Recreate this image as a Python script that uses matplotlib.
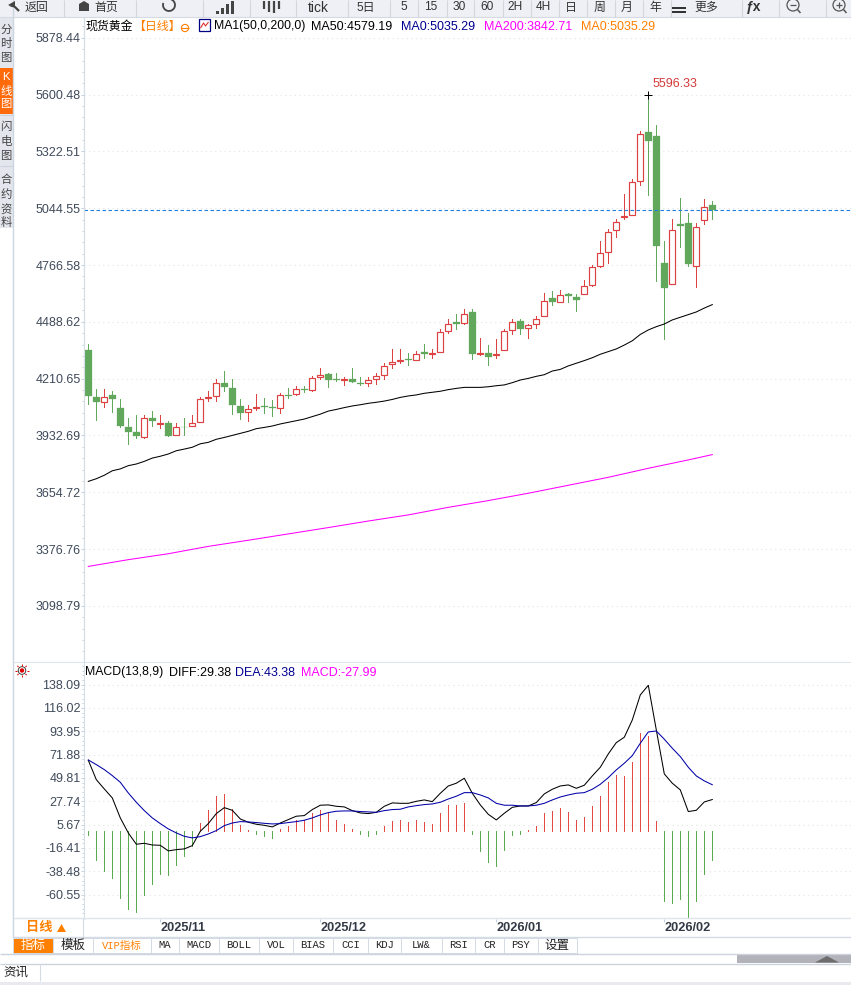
import numpy as np
import matplotlib
matplotlib.use("Agg")
import matplotlib.pyplot as plt
from matplotlib.patches import Rectangle, Circle, Polygon, Arc
from matplotlib.ticker import FixedLocator

plt.rcParams['font.family'] = ['Liberation Sans', 'Noto Sans CJK SC', 'DejaVu Sans']

opens = [4349,4122,4098,4129,4068,3975,3951,3927,4020,3989,3995,3936,3975,3980,4000,4117,4127,4191,4166,4078,
         4049,4067,4078,4073,4068,4132,4134,4161,4157,4220,4232,4207,4202,4207,4191,4191,4210,4230,4284,4295,
         4305,4303,4339,4333,4342,4445,4486,4484,4535,4333,4338,4326,4352,4448,4494,4458,4479,4519,4603,4587,
         4626,4612,4626,4670,4762,4832,4939,5001,5013,5179,5416,5396,4775,4675,4965,4974,4762,4988,5062]
highs = [4378,4161,4158,4148,4109,4020,4031,4031,4051,4031,4005,3992,4020,4031,4119,4152,4210,4246,4210,4109,
         4083,4134,4114,4104,4142,4163,4176,4174,4225,4264,4236,4240,4220,4261,4220,4220,4240,4285,4354,4354,
         4334,4347,4378,4357,4452,4501,4525,4550,4550,4408,4373,4403,4455,4501,4501,4479,4519,4631,4638,4643,
         4631,4623,4691,4768,4885,4941,4990,5112,5189,5420,5596.33,5450,4885,4993,5093,5022,4970,5088,5078]
lows = [4085,4008,4072,4047,3974,3891,3920,3920,3979,3969,3930,3933,3933,3979,4000,4101,4101,4150,4037,4013,
        4003,4057,4044,4028,4044,4117,4132,4147,4150,4210,4170,4201,4178,4194,4179,4174,4184,4207,4262,4285,
        4276,4302,4310,4310,4341,4434,4452,4478,4305,4326,4276,4310,4351,4429,4427,4408,4458,4517,4571,4585,
        4585,4541,4626,4664,4757,4776,4903,4992,5011,5158,5109,4688,4404,4675,4854,4761,4659,4967,4992]
closes = [4126,4096,4121,4111,3979,3949,3930,4020,4003,3995,3930,3975,3972,3995,4112,4122,4191,4170,4081,4044,
          4064,4073,4072,4067,4130,4126,4160,4155,4214,4230,4204,4202,4207,4194,4186,4205,4225,4274,4293,4300,
          4302,4333,4333,4336,4440,4479,4479,4528,4331,4338,4316,4333,4445,4489,4453,4473,4504,4592,4585,4620,
          4615,4595,4665,4758,4827,4930,4978,5008,5174,5409,5373,4859,4654,4939,4957,4771,4954,5052,5035.29]

ma50 = [3708,3721,3738,3760,3769,3785,3793,3806,3822,3831,3842,3858,3866,3875,3892,3899,3914,3923,3933,3943,
        3953,3966,3972,3979,3989,3997,4005,4013,4025,4037,4052,4060,4069,4077,4083,4090,4095,4101,4109,4119,
        4126,4131,4139,4144,4149,4157,4163,4168,4168,4168,4171,4176,4180,4191,4204,4212,4222,4230,4248,4256,
        4273,4286,4299,4313,4330,4343,4356,4375,4396,4427,4449,4465,4478,4498,4511,4524,4537,4556,4573]
ma200_at = [0,5,10,15,20,25,30,35,40,45,50,55,60,65,70,75,78]
ma200 = [3292,3325,3354,3390,3420,3451,3482,3514,3544,3581,3614,3650,3689,3728,3772,3813,3839]

macd = [-3.8,-28.1,-38.5,-45,-64,-74.4,-77.2,-61.1,-50.7,-41.3,-42.2,-32.8,-24.3,-14.2,7.2,19.9,33.1,35,20.5,5.7,
        0.3,-2.8,-4.7,-6.6,1.9,4.7,10.4,10.4,16.7,19.9,16.7,10.4,6.6,1.9,-3.5,-4.7,-2.8,4.7,9.5,10.1,
        8.2,10.1,8.2,6.3,16.7,24.3,24.3,26.2,-2.8,-18.9,-29.3,-33.1,-18,-3.8,-2.8,0.6,4.4,16.7,18.6,21.4,
        17.7,10.1,12.9,23.3,32.8,46,52.6,51.7,64.9,92.4,89.5,9.1,-66.2,-68.1,-64.3,-82.3,-66.2,-40.7,-27.99]
diff = [66.5,48.2,39.4,30.9,12,-2.2,-12.9,-12,-13.6,-13.9,-19.2,-18,-17.3,-14.2,-0.6,6.6,16.1,21.7,19.2,11,
        7.9,6,5,3.5,7.2,10.4,13.6,14.2,19.9,24,24.3,23,22.4,18.9,16.7,16.1,17.3,23,26.2,25.8,
        25.8,27.7,29,27.4,35.3,42.2,44.8,49.5,35.3,24.3,15.4,10.1,16.4,22,23.3,23.3,26.5,34.7,39.1,42.2,
        43.2,40,42.9,51.7,59.9,72.5,83.2,88.3,104.6,128.3,137.4,95.2,53.6,44.8,38.5,18,19.2,27.1,29.38]
dea = [66.8,62.4,57.7,52,45.7,35.6,26.8,18.9,12,6.6,1.6,-2.2,-5.4,-6.9,-5.7,-3.2,0,4.7,7.2,8.5,
       8.2,7.6,6.9,6.3,6.6,7.6,8.5,9.8,12,14.8,17,18.3,18.6,18.6,18,17.7,17.3,18.9,19.9,20.2,
       22.4,23.6,24.6,25.2,26.8,29.9,32.5,35.9,35.9,33.7,30.9,25.8,24,24,23.3,23.3,24,25.8,29,31.8,
       33.7,35.3,35.9,39.1,43.8,50.1,57.4,63.7,70.9,82.6,93.3,94.2,86.4,77.9,70,59.9,51.7,47,43.38]

price_ticks = [5878.44,5600.48,5322.51,5044.55,4766.58,4488.62,4210.65,3932.69,3654.72,3376.76,3098.79]
macd_ticks = [138.09,116.02,93.95,71.88,49.81,27.74,5.67,-16.41,-38.48,-60.55]
date_at = [9,29,51,72]
date_labels = ['2025/11','2025/12','2026/01','2026/02']
last_price = 5035.29
peak_label = '5596.33'
tool_labels = [(36,'返回'),(106,'首页'),(318,'tick'),(366,'5日'),(404,'5'),(431,'15'),(459,'30'),(487,'60'),(515,'2H'),
               (543,'4H'),(571,'日'),(599,'周'),(627,'月'),(655,'年'),(706,'更多')]
tool_seps = [64,136,203,250,296,348,390,418,447,474,503,531,559,587,615,643,671,742,779,826]
tab_edges = [13,53,93,150.5,179,219,259,293,333,367.5,401,441.5,475,504,537.5,577]
tab_names = ['指标','模板','VIP指标','MA','MACD','BOLL','VOL','BIAS','CCI','KDJ','LW&','RSI','CR','PSY','设置']

W, H = 851, 985
RED, GREEN = '#dc4242', '#62a85c'
TICKC, EDGE, GRID = '#3f4a5a', '#d5dde6', '#e8e8e8'
ORANGE = '#ff8000'
idx = np.arange(len(opens))
X0, DX = 88.3, 8.0
THIN = 0.72
CURVE = 0.75

fig = plt.figure(figsize=(W/100, H/100), dpi=100, facecolor='white')
def box(l, t, r, b, **k):
    return fig.add_axes([l/W, 1-b/H, (r-l)/W, (b-t)/H], **k)
def style(ax):
    ax.set_facecolor('white')
    ax.set_xlim((84-X0)/DX, (851-X0)/DX)
    for s in ('top', 'right', 'bottom'):
        ax.spines[s].set_visible(False)
    ax.spines['left'].set_color(EDGE)
    ax.spines['left'].set_linewidth(0.8)
    ax.grid(True, axis='y', which='major', color=GRID, lw=0.8, ls=(0, (1.2, 3)))
    ax.set_axisbelow(True)
    ax.tick_params(axis='y', which='major', length=2.2, width=0.7, color='#c3d3e3', labelcolor=TICKC, labelsize=9, pad=0.2)
    ax.tick_params(axis='y', which='minor', length=1.2, width=0.7, color='#c3d3e3')

# price panel
ax = box(84, 20, 851, 661)
style(ax)
PX = 4.893
ax.set_ylim(5603.48-(661-94)*PX, 5603.48+(94-20)*PX)
ax.set_xticks([])
ax.set_yticks(price_ticks)
ax.set_yticklabels(['%.2f' % t for t in price_ticks])
step = price_ticks[0]-price_ticks[1]
ax.yaxis.set_minor_locator(FixedLocator([price_ticks[-1]-step+i*step/5 for i in range(60)]))
o, h, l, c = map(np.array, (opens, highs, lows, closes))
up = c >= o
ax.vlines(idx[up], l[up], h[up], color=RED, lw=THIN, antialiased=False, zorder=2)
ax.vlines(idx[~up], l[~up], h[~up], color=GREEN, lw=THIN, antialiased=False, zorder=2)
ax.bar(idx[up], (c-o)[up], bottom=o[up], width=0.76, facecolor='white', edgecolor=RED, linewidth=0.85, zorder=3)
ax.bar(idx[~up], (o-c)[~up], bottom=c[~up], width=0.86, facecolor=GREEN, edgecolor=GREEN, linewidth=0.2, zorder=3)
ax.plot(idx, ma50, color='black', lw=CURVE, zorder=4)
ax.plot(ma200_at, ma200, color='#ff00ff', lw=CURVE, zorder=4)
ax.axhline(last_price, color='#2080e0', lw=0.8, ls=(0, (3.2, 2.2)), zorder=5)
peak = int(np.argmax(h))
ax.plot([peak], [h[peak]], marker='+', color='black', ms=5.5, mew=0.72, zorder=6)
ax.annotate(peak_label, (peak, h[peak]), xytext=(4, 5), textcoords='offset pixels', color='#d43a3a', fontsize=9, va='bottom', ha='left', zorder=6)

# MACD panel
ax2 = box(84, 662, 851, 918.5)
style(ax2)
PY = 1.0575
ax2.set_ylim((830.6-918.5)/PY, (830.6-662)/PY)
ax2.set_yticks(macd_ticks)
ax2.set_yticklabels(['%.2f' % t for t in macd_ticks])
ms = macd_ticks[0]-macd_ticks[1]
ax2.yaxis.set_minor_locator(FixedLocator([macd_ticks[-1]-ms+i*ms/5 for i in range(60)]))
mv = np.array(macd)
ax2.vlines(idx[mv >= 0], 0, mv[mv >= 0], color='#e24a42', lw=THIN, antialiased=False, zorder=2)
ax2.vlines(idx[mv < 0], 0, mv[mv < 0], color='#5aaa50', lw=THIN, antialiased=False, zorder=2)
ax2.plot(idx, diff, color='black', lw=CURVE, zorder=3)
ax2.plot(idx, dea, color='#0000a8', lw=CURVE, zorder=4)
ax2.set_xticks(date_at)
ax2.set_xticklabels(date_labels, ha='left', fontsize=9.2, color='#333a45', fontweight='bold')
ax2.tick_params(axis='x', length=2.5, width=0.8, color='#c3d3e3', pad=0)

# interface chrome and headers in pixel coordinates
ui = fig.add_axes([0, 0, 1, 1], facecolor='none', zorder=20)
ui.set_xlim(0, W); ui.set_ylim(H, 0); ui.axis('off')
def R(l, t, r, b, fc, ec='none', lw=0.8, z=1):
    ui.add_patch(Rectangle((l, t), r-l, b-t, facecolor=fc, edgecolor=ec, linewidth=lw, zorder=z))
def T(x, y, s, color='black', size=9.0, ha='left', **k):
    ui.text(x, y, s, color=color, fontsize=size, ha=ha, va='center', **k)
def L(xs, ys, color=EDGE, lw=0.8, z=2):
    ui.plot(xs, ys, color=color, lw=lw, zorder=z, solid_capstyle='butt')

# top toolbar
R(0, 0, W, 16.5, '#eef0f5')
L([0, W], [16.5, 16.5], '#d5dae3')
for s in tool_seps:
    L([s, s], [0, 16.5], '#d2d6de')
for x, s in tool_labels:
    T(x, 7.5, s, '#333333', 8.6 if s != 'tick' else 10, ha='center')
L([10, 15, 19], [5, 7, 11], '#444444', 1.6)
ui.add_patch(Polygon([[8, 5], [15, 1], [15, 8]], facecolor='#444444', zorder=3))
ui.add_patch(Polygon([[79, 11], [79, 4], [84, 1], [89, 4], [89, 11]], facecolor='#444444', zorder=3))
ui.add_patch(Arc((169, 5), 12, 12, theta1=-70, theta2=200, color='#444444', lw=1.3, zorder=3))
for x, y in [(217, 11), (222, 8), (227, 4), (232, 1)]:
    R(x-1, y, x+1.5, 14, '#444444', z=3)
for x, t, b in [(264, 1, 9), (269, 1, 12), (274, 1, 13), (279, 1, 9)]:
    L([x, x], [t, b], '#444444', 1.6, 3)
R(672, 7, 686, 8.5, '#333333', z=3); R(672, 11, 686, 12.5, '#333333', z=3)
T(754, 7.5, 'ƒx', '#333333', 10, ha='center', fontweight='bold')
for x, plus in [(793, False), (839, True)]:
    ui.add_patch(Circle((x, 5), 6, facecolor='none', edgecolor='#555555', lw=0.9, zorder=3))
    L([x-3, x+3], [5, 5], '#555555', 0.9, 3)
    L([x+4.5, x+7.5], [9.5, 13], '#555555', 1.1, 3)
    if plus:
        L([x, x], [2, 8], '#555555', 0.9, 3)

# left tabs
R(0, 16.5, 12.5, 228, '#e4e6ee')
R(0, 68, 12.5, 113.5, '#ff6a0a', z=2)
L([0, 12.5], [114.5, 114.5], '#cdd2dc'); L([0, 12.5], [166, 166], '#cdd2dc')
L([13, 13], [0, 937], '#ccd6e0', 1.0)
for y, s in [(30, '分'), (44, '时'), (58, '图'), (127, '闪'), (142, '电'), (156, '图'), (180, '合'), (195, '约'), (209, '资'), (222, '料')]:
    T(6, y, s, '#444444', 8.2, ha='center')
for y, s in [(77, 'K'), (91, '线'), (104, '图')]:
    T(6, y, s, 'white', 8.2, ha='center', zorder=4)

# chart headers
T(85, 26.5, '现货黄金', 'black', 8.6)
T(133, 26.5, '【日线】', ORANGE, 8.6)
ui.add_patch(Circle((185, 28), 3.6, facecolor='none', edgecolor=ORANGE, lw=0.8, zorder=3))
L([181, 189], [28, 28], ORANGE, 0.8, 3)
R(199, 19, 210, 31, 'white', '#000080', 0.9, 3)
L([200.5, 203.5, 205.5, 208.5], [28, 23, 26, 22], '#e03030', 0.8, 4)
T(214, 26.5, 'MA1(50,0,200,0)', size=8.85)
T(311, 26.5, 'MA50:4579.19')
T(401, 26.5, 'MA0:5035.29', '#000090')
T(484, 26.5, 'MA200:3842.71', '#ff00ff')
T(581, 26.5, 'MA0:5035.29', ORANGE)
T(85, 672.5, 'MACD(13,8,9)', size=8.85)
T(169, 672.5, 'DIFF:29.38')
T(235, 672.5, 'DEA:43.38', '#000090')
T(301, 672.5, 'MACD:-27.99', '#ff00ff')
L([13, W], [662, 662], '#dfe5ec')
L([84, 84], [17, 661], EDGE)

# MACD settings icon
ui.add_patch(Circle((22, 670.5), 2.2, facecolor='#e00000', edgecolor='none', zorder=4))
ui.add_patch(Circle((22, 670.5), 3.8, facecolor='none', edgecolor='#222222', lw=0.6, zorder=4))
for a in np.arange(0, 360, 45):
    ca, sa = np.cos(np.radians(a)), np.sin(np.radians(a))
    L([22+4.8*ca, 22+6.6*ca], [670.5+4.8*sa, 670.5+6.6*sa], '#e00000', 0.7, 4)

# bottom band
L([13, W], [918, 918], '#dfe5ec', 1.0)
L([13, W], [937, 937], '#d5dbe4', 1.0)
R(13, 918, 83, 937, 'white', '#d5dbe4', 0.8)
T(26, 928, '日线', ORANGE, 9.5, fontweight='bold')
ui.add_patch(Polygon([[57, 932], [66, 932], [61.5, 924]], facecolor=ORANGE, zorder=3))
for i, name in enumerate(tab_names):
    a, b = tab_edges[i], tab_edges[i+1]
    active = i == 0
    R(a, 938, b, 953, ORANGE if active else 'white', '#d5dbe4', 0.7)
    col = 'white' if active else ('#ff8000' if i == 2 else '#222222')
    cjk = name in ('指标', '模板', '设置')
    ui.text((a+b)/2, 945.5, name, color=col, fontsize=9 if cjk else 7.6, ha='center', va='center',
            family=['Noto Sans CJK SC'] if cjk else ['Liberation Mono', 'Noto Sans CJK SC'], zorder=3)
L([0, W], [954, 954], '#ccd3dc', 1.0)
R(737, 955, W, 963, '#b2b2ba')
ui.add_patch(Polygon([[815, 962.5], [839, 962.5], [827, 956]], facecolor='#6e6e6e', zorder=3))
L([0, W], [963.8, 963.8], '#ccd3dc', 1.0)
L([40, 40], [964, 981], '#d5dbe4', 0.8)
T(16, 973, '资讯', '#222222', 9, ha='center')
R(0, 981.5, W, 985, '#e8eaf0')

fig.savefig('out.png', dpi=100, facecolor='white')
